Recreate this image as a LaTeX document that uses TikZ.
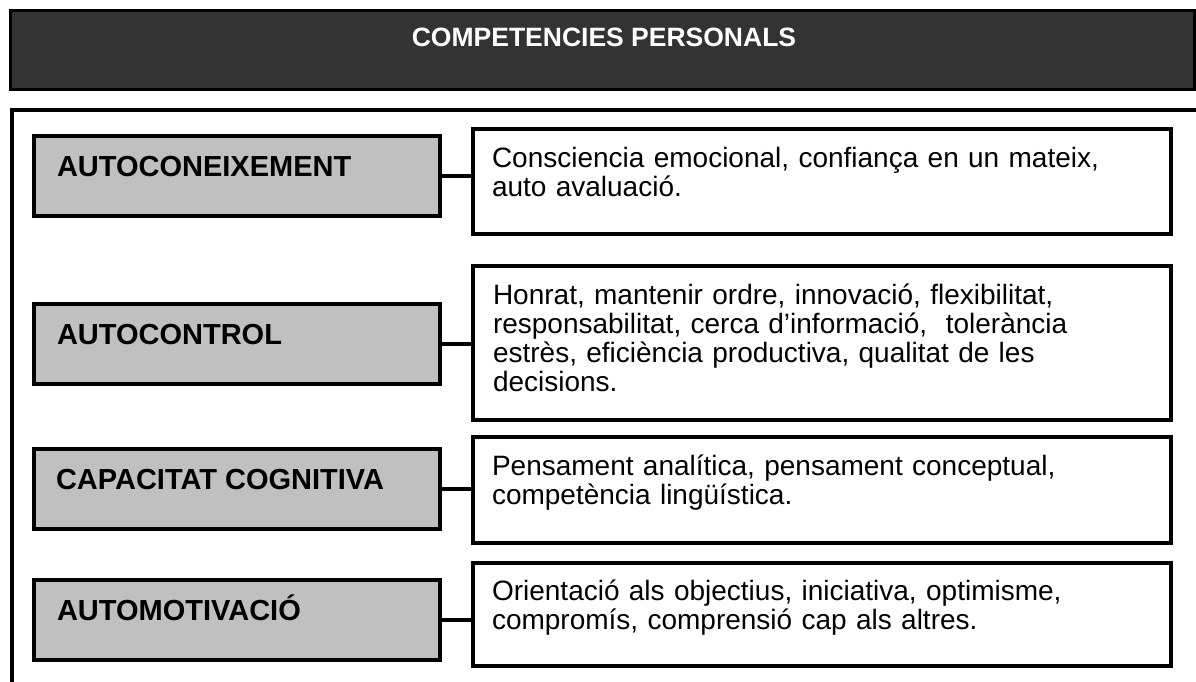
\documentclass[tikz,border=0pt]{standalone}
\usepackage{fontspec}
\setmainfont{Liberation Sans}
\definecolor{headgray}{HTML}{333333}
\definecolor{boxgray}{HTML}{C0C0C0}

\begin{document}
\begin{tikzpicture}[x=1pt, y=-1pt]
    \tikzstyle{every node}=[inner sep=0pt, outer sep=0pt]
    \tikzstyle{headbox}=[draw, line width=3pt, fill=headgray, anchor=north west, minimum width=1184pt, minimum height=79pt]
    \tikzstyle{headtext}=[anchor=base, text=white, font=\fontsize{26.5pt}{30pt}\selectfont\bfseries]
    \tikzstyle{frame}=[line width=4pt]
    \tikzstyle{greybox}=[draw, line width=4pt, fill=boxgray, anchor=north west, minimum width=406pt, minimum height=80pt]
    \tikzstyle{greytext}=[anchor=base west, font=\fontsize{29pt}{34pt}\selectfont\bfseries]
    \tikzstyle{descbox}=[draw, line width=4pt, fill=white, anchor=north west, minimum width=698pt]
    \tikzstyle{desctext}=[anchor=base west, text width=660pt, align=left, font=\fontsize{28pt}{29pt}\selectfont]
    \tikzstyle{link}=[line width=4pt]

    \useasboundingbox (0,0) rectangle (1196,682);

% header and the open frame below it

    \node[headbox] (head) at (10.5,10.5) {};
    \node[headtext] (title) at (604,47) {COMPETENCIES PERSONALS};
    \draw[frame] (11.5,682) -- (11.5,110) -- (1196,110);

% left: the four competences, right: what each one covers

    \node[greybox] (g1) at (34,136) {};
    \node[greybox] (g2) at (34,304) {};
    \node[greybox] (g3) at (34,449) {};
    \node[greybox] (g4) at (34,580) {};

    \node[greytext] (l1) at (57,176) {AUTOCONEIXEMENT};
    \node[greytext] (l2) at (57,344) {AUTOCONTROL};
    \node[greytext] (l3) at (56,489) {CAPACITAT COGNITIVA};
    \node[greytext] (l4) at (57,620) {AUTOMOTIVACIÓ};

    \node[descbox, minimum height=105pt] (d1) at (473,129) {};
    \node[descbox, minimum height=153.5pt] (d2) at (473,266) {};
    \node[descbox, minimum height=106pt] (d3) at (473,437) {};
    \node[descbox, minimum height=103pt] (d4) at (473,563) {};

    \node[desctext] (t1) at (492,167) {Consciencia emocional, confiança en un mateix,\\ auto avaluació.};
    \node[desctext] (t2) at (493,304) {Honrat, mantenir ordre, innovació, flexibilitat,\\ responsabilitat, cerca d’informació,\ \ tolerància\\ estrès, eficiència productiva, qualitat de les\\ decisions.};
    \node[desctext] (t3) at (492,475) {Pensament analítica, pensament conceptual,\\ competència lingüística.};
    \node[desctext] (t4) at (492,600) {Orientació als objectius, iniciativa, optimisme,\\ compromís, comprensió cap als altres.};

    \draw[link] (g1.east) -- (g1.east -| d1.west);
    \draw[link] (g2.east) -- (g2.east -| d2.west);
    \draw[link] (g3.east) -- (g3.east -| d3.west);
    \draw[link] (g4.east) -- (g4.east -| d4.west);

\end{tikzpicture}
\end{document}
